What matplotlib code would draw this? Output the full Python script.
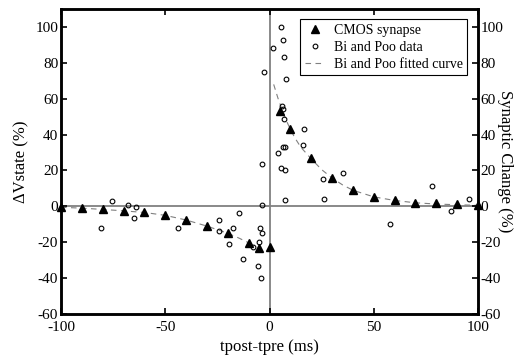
import matplotlib
matplotlib.use("Agg")
import matplotlib.pyplot as plt

plt.rcParams['font.family'] = ['Liberation Serif', 'DejaVu Serif']
plt.rcParams['axes.unicode_minus'] = False

# CMOS synapse (triangulos)
cmos_t = [-100, -90, -80, -70, -60, -50, -40, -30, -20, -10, -5, 0,
          5, 10, 20, 30, 40, 50, 60, 70, 80, 90, 100]
cmos_v = [-0.4, -0.9, -1.7, -2.4, -3.3, -5, -7.8, -11.1, -14.8, -20.2, -23.3, -22.8,
          53.3, 43, 26.8, 15.7, 8.9, 5.2, 3.3, 1.9, 1.8, 1.5, 0.7]

# Bi and Poo data (circulos)
bp_t = [5.5, 6.6, 1.5, 7.0, -2.5, 7.9, 5.8, 6.6, 7.0, 16.5, 15.9, 6.3, 7.6, 4.2,
        -3.5, 5.4, 7.4, 7.2, -3.5, -14.7, -24.1, -43.9, -24.1, -17.7, -4.6, -3.7,
        -19.6, -4.9, -7.8, -12.6, -5.4, -4.2, -75.7, -67.9, -64, -65, -80.7,
        35.4, 25.8, 26.3, 57.8, 77.8, 95.8, 86.9]
bp_v = [100, 93, 88.5, 83, 75, 71, 55.7, 54.3, 48.7, 43.3, 34.4, 33, 33, 29.8,
        23.5, 21.5, 20.4, 3.3, 1, -3.7, -7.8, -12, -13.7, -12.2, -12.2, -14.6,
        -21.1, -20, -22.6, -29.1, -33, -39.8, 2.9, 0.9, -0.5, -6.3, -12.2,
        18.7, 15.4, 3.9, -9.6, 11.1, 4.1, -2.4]

# Curva ajustada
fit_neg_t = [-100, -90, -80, -70, -60, -50, -40, -30, -20, -15, -10, -8]
fit_neg_v = [-0.5, -1, -1.7, -2.5, -3.4, -5, -7.6, -11, -15, -17.5, -20.3, -22]
fit_pos_t = [2, 4, 6, 8, 10, 12, 15, 20, 25, 30, 35, 40, 50, 60, 70, 80, 90, 100]
fit_pos_v = [68, 60.5, 54, 48, 43, 38.5, 33, 26.5, 20.5, 15.8, 12, 9, 5.3, 3.3,
             2, 1.3, 0.9, 0.6]

x_ticks = [-100, -50, 0, 50, 100]
y_ticks = [-60, -40, -20, 0, 20, 40, 60, 80, 100]

fig = plt.figure(figsize=(5.17, 3.62), dpi=100)
ax = fig.add_axes([0.118, 0.1326, 0.8066, 0.8424])

ax.axhline(0, color="gray", lw=1.3, zorder=1)
ax.axvline(0, color="gray", lw=1.3, zorder=1)

ax.plot(fit_neg_t, fit_neg_v, color="gray", lw=0.8, dashes=(5, 4), zorder=2)
ax.plot(fit_pos_t, fit_pos_v, color="gray", lw=0.8, dashes=(5, 4), zorder=2,
        label="Bi and Poo fitted curve")
ax.plot(cmos_t, cmos_v, linestyle="none", marker="^", ms=5.5, color="black",
        zorder=4, label="CMOS synapse", clip_on=False)
ax.plot(bp_t, bp_v, linestyle="none", marker="o", ms=3.4, mfc="none",
        mec="black", mew=0.8, zorder=3, label="Bi and Poo data")

ax.set_xlim(-100, 100)
ax.set_ylim(-60, 110)
ax.set_xticks(x_ticks)
ax.set_yticks(y_ticks)
ax.tick_params(direction="in", length=4, width=1.2, labelsize=11, top=True)
ax.tick_params(axis="x", pad=5)
ax.tick_params(axis="y", pad=2)
for s in ax.spines.values():
    s.set_linewidth(1.8)

ax2 = ax.twinx()
ax2.set_ylim(-60, 110)
ax2.set_yticks(y_ticks)
ax2.tick_params(direction="in", length=4, width=1.2, labelsize=11, pad=2)
for s in ax2.spines.values():
    s.set_linewidth(1.8)

ax.set_xlabel("tpost-tpre (ms)", fontsize=12, labelpad=4)
ax.set_ylabel("ΔVstate (%)", fontsize=12, labelpad=4)
ax2.set_ylabel("Synaptic Change (%)", fontsize=12, rotation=-90, labelpad=7)

h, l = ax.get_legend_handles_labels()
order = [1, 2, 0]
leg = ax.legend([h[i] for i in order], [l[i] for i in order], loc="upper right",
                bbox_to_anchor=(0.98, 0.975), fontsize=10, fancybox=False,
                edgecolor="black", framealpha=1, handlelength=1.5,
                borderpad=0.3, labelspacing=0.3, handletextpad=0.6,
                borderaxespad=0.2)
leg.get_frame().set_linewidth(0.8)

fig.savefig("out.png", dpi=100)
